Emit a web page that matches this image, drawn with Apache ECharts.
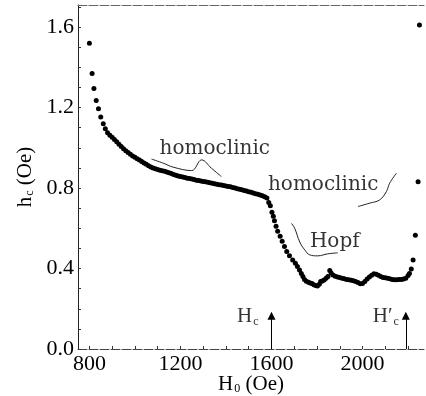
<!DOCTYPE html>
<html><head><meta charset="utf-8">
<script src="https://cdn.jsdelivr.net/npm/echarts@6/dist/echarts.min.js"></script>
<style>html,body{margin:0;padding:0;background:#fff}#c{width:426px;height:396px}</style>
</head><body><div id="c"></div>
<script>
// applied field H0 (Oe)
const hField = [800,812,820,830,840,850,861,870,880,890,900,910,920,930,940,950,960,970,980,990,
1000,1010,1020,1030,1040,1050,1060,1070,1080,1090,1100,1110,1120,1130,1140,1150,1160,1170,1180,1190,
1200,1210,1220,1230,1240,1250,1260,1270,1280,1290,1300,1310,1320,1330,1340,1350,1360,1370,1380,1390,
1400,1410,1420,1430,1440,1450,1460,1470,1480,1490,1500,1510,1520,1530,1540,1550,1560,1570,1580,1588,
1595,1602,1608,1613,1620,1627,1638,1647,1657,1667,1679,1693,1705,1714,1723,1731,1738,1745,1753,1762,
1770,1778,1786,1794,1802,1810,1816,1823,1831,1840,1848,
1856,1862,1870,1880,1890,1900,1910,1920,1930,1940,1950,1960,1970,1980,1990,2000,2010,2020,2030,2040,
2050,2060,2070,2080,2090,2100,2110,2120,2130,2140,2150,2160,2170,2180,2190,2200,2206,2214,2222,2232,
2244,2250];
// critical amplitude hc (Oe)
const hCrit = [1.52,1.37,1.295,1.235,1.194,1.153,1.12,1.095,1.075,1.062,1.052,1.042,1.030,1.018,1.006,0.996,0.986,0.977,0.968,0.960,
0.953,0.946,0.939,0.932,0.925,0.918,0.911,0.905,0.900,0.896,0.892,0.889,0.886,0.883,0.880,0.876,0.872,0.868,0.864,0.860,
0.857,0.855,0.852,0.849,0.847,0.845,0.842,0.839,0.837,0.835,0.833,0.831,0.829,0.826,0.824,0.822,0.819,0.817,0.815,0.813,
0.810,0.808,0.806,0.803,0.800,0.797,0.794,0.791,0.788,0.785,0.782,0.779,0.775,0.772,0.769,0.766,0.762,0.757,0.750,0.728,
0.712,0.680,0.660,0.638,0.610,0.585,0.560,0.535,0.510,0.485,0.463,0.443,0.426,0.410,0.393,0.375,0.360,0.345,0.337,0.332,
0.328,0.325,0.320,0.316,0.313,0.322,0.335,0.338,0.343,0.352,0.360,
0.390,0.378,0.368,0.362,0.358,0.355,0.352,0.349,0.346,0.344,0.342,0.339,0.336,0.330,0.324,0.325,0.336,0.348,0.358,0.366,
0.374,0.372,0.366,0.360,0.356,0.354,0.352,0.349,0.346,0.344,0.344,0.345,0.346,0.348,0.352,0.365,0.375,0.398,0.443,0.565,
0.832,1.61];

// hand-drawn pointer curves next to the region labels [H0, hc]
const homoclinicCurve1 = [[1073,0.944],[1124,0.924],[1168,0.904],[1249,0.887],[1293,0.940],[1336,0.899],[1380,0.857]];
const homoclinicCurve2 = [[2149,0.874],[2119,0.824],[2105,0.783],[2075,0.741],[2031,0.725],[1980,0.708]];
const hopfCurve = [[1688,0.624],[1702,0.600],[1724,0.532],[1746,0.493],[1768,0.468],[1803,0.463],[1847,0.473],[1891,0.478]];

// region / field labels
const regionLabels = [
  {text:'homoclinic', at:[1351,0.995]},
  {text:'homoclinic', at:[1827,0.816]},
  {text:'Hopf', at:[1878,0.532]}
];
const fieldMarks = [
  {text:'{h|H}{s|c}', at:[1496,0.16], arrowAt:1600},
  {text:'{h|H′}{s|c}', at:[2102,0.16], arrowAt:2190}
];
const arrowTip = 0.165;

const xTicks = [800,900,1000,1100,1200,1300,1400,1500,1600,1700,1800,1900,2000,2100,2200];
const xLabels = [800,1200,1600,2000];
const yTicks = [0,0.1,0.2,0.3,0.4,0.5,0.6,0.7,0.8,0.9,1.0,1.1,1.2,1.3,1.4,1.5,1.6,1.7];
const yLabels = [0,0.4,0.8,1.2,1.6];

const serif = 'Liberation Serif';
const richSub = {
  h:{fontFamily:serif,fontSize:21,color:'#000',lineHeight:22},
  s:{fontFamily:serif,fontSize:12,color:'#000',verticalAlign:'bottom',lineHeight:22,padding:[0,0,0,1]},
  n:{fontFamily:serif,fontSize:21,color:'#000',lineHeight:22}
};

const chart = echarts.init(document.getElementById('c'), null, {renderer:'canvas'});
const line = (d)=>({type:'line',data:d,showSymbol:false,symbol:'none',smooth:0.4,
  lineStyle:{color:'#222',width:1},silent:true,z:3});

chart.setOption({
  animation:false,
  backgroundColor:'#fff',
  grid:{left:78,right:2,top:5,bottom:47,containLabel:false,outerBoundsMode:'none'},
  xAxis:[{
    type:'value',min:750,max:2270,
    name:'{h|H}{s|0}{n| (Oe)}',nameLocation:'middle',nameGap:24,nameMoveOverlap:false,
    nameTextStyle:{rich:richSub},
    axisLine:{show:true,lineStyle:{color:'#444',width:1,type:[9,2]}},
    axisTick:{show:true,inside:true,length:3,customValues:xTicks,lineStyle:{color:'#333'}},
    axisLabel:{customValues:xLabels,fontFamily:serif,fontSize:22,color:'#000',margin:4,
      formatter:(v)=>String(v)},
    splitLine:{show:false}
  },{
    type:'value',position:'top',min:750,max:2270,
    axisLine:{show:true,onZero:false,lineStyle:{color:'#666',width:1,type:[9,2]}},
    axisTick:{show:false},axisLabel:{show:false},splitLine:{show:false}
  }],
  yAxis:{
    type:'value',min:0,max:1.71,
    name:'{h|h}{s|c}{n| (Oe)}',nameLocation:'middle',nameGap:42,nameRotate:90,nameMoveOverlap:false,
    nameTextStyle:{rich:richSub},
    axisLine:{show:true,lineStyle:{color:'#222',width:1}},
    axisTick:{show:true,inside:true,length:3,customValues:yTicks,lineStyle:{color:'#333'}},
    axisLabel:{customValues:yLabels,fontFamily:serif,fontSize:22,color:'#000',margin:4,
      formatter:(v)=>v.toFixed(1)},
    splitLine:{show:false}
  },
  series:[
    {type:'scatter',data:hField.map((x,i)=>[x,hCrit[i]]),symbolSize:5,
      itemStyle:{color:'#000',opacity:1},z:4,silent:true,
      markLine:{silent:true,symbol:['none','triangle'],symbolSize:8,
        lineStyle:{color:'#000',width:1,type:'solid',opacity:1},label:{show:false},
        itemStyle:{color:'#000'},
        data:fieldMarks.map(m=>[{coord:[m.arrowAt,0]},{coord:[m.arrowAt,arrowTip]}])}
    },
    line(homoclinicCurve1),
    line(homoclinicCurve2),
    line(hopfCurve),
    {type:'scatter',symbolSize:0,silent:true,z:5,
      data:regionLabels.map(r=>({value:r.at,label:{show:true,position:'inside',formatter:r.text,
        fontFamily:'DejaVu Serif',fontSize:20,color:'#000'}}))},
    {type:'scatter',symbolSize:0,silent:true,z:5,
      data:fieldMarks.map(r=>({value:r.at,label:{show:true,position:'inside',formatter:r.text,rich:richSub}}))}
  ]
});
</script>
</body></html>
